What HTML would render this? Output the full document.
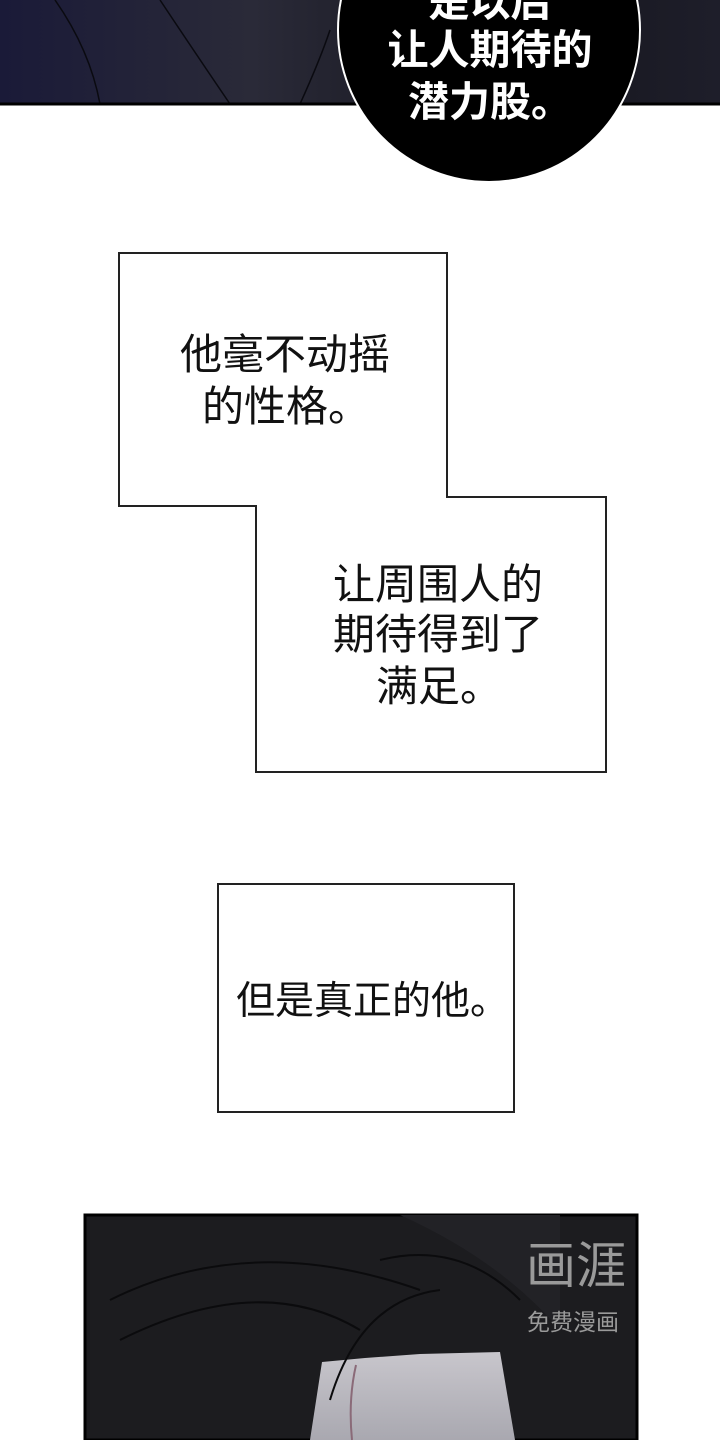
<!DOCTYPE html>
<html><head><meta charset="utf-8"><style>
body{margin:0;width:720px;height:1440px;background:#fff;position:relative;overflow:hidden;font-family:"Liberation Sans","Noto Sans CJK SC",sans-serif}
.t{position:absolute;color:#111;font-size:42px;line-height:52px;white-space:nowrap}
.w{position:absolute;color:#fff;font-size:41px;line-height:52px;white-space:nowrap;width:300px;left:340px;text-align:center;font-weight:bold}
</style></head><body>
<svg width="720" height="1440" style="position:absolute;left:0;top:0">
<defs>
<linearGradient id="g1" x1="0" y1="0" x2="1" y2="0"><stop offset="0" stop-color="#1a1a38"/><stop offset="0.35" stop-color="#2a2a38"/><stop offset="0.7" stop-color="#15151c"/><stop offset="1" stop-color="#1e1e2a"/></linearGradient>
<linearGradient id="g2" x1="0" y1="0" x2="0" y2="1"><stop offset="0" stop-color="#c8c6cc"/><stop offset="1" stop-color="#a9a8b0"/></linearGradient>
</defs>
<rect x="0" y="0" width="720" height="105" fill="url(#g1)"/>
<path d="M55 0 Q90 50 100 104 M160 0 Q200 60 230 104 M330 30 Q320 60 300 104" stroke="#0a0a10" stroke-width="1.5" fill="none"/>
<line x1="0" y1="104" x2="720" y2="104" stroke="#000" stroke-width="3"/>
<ellipse cx="489" cy="30" rx="151" ry="152" fill="#000" stroke="#fff" stroke-width="2"/>
<polygon points="119,253 447,253 447,497 606,497 606,772 256,772 256,506 119,506" fill="#fff" stroke="#222" stroke-width="2"/>
<rect x="218" y="884" width="296" height="228" fill="#fff" stroke="#222" stroke-width="2"/>
<rect x="85" y="1215" width="552" height="225" fill="#1c1c1f" stroke="#000" stroke-width="3"/>
<path d="M85 1215 L400 1215 Q500 1260 560 1330 L560 1215 Z" fill="#222226"/>
<polygon points="322,1362 365,1358 420,1354 500,1352 515,1440 310,1440" fill="url(#g2)"/>
<path d="M110 1300 Q250 1230 420 1290 M120 1340 Q260 1270 360 1330 M330 1400 Q360 1300 440 1290 M380 1260 Q460 1240 520 1300" stroke="#0b0b0d" stroke-width="2" fill="none"/>
<path d="M356 1365 Q348 1400 352 1440" stroke="#8a6a78" stroke-width="2" fill="none"/>
</svg>
<div class="w" style="top:-24px">是以后</div>
<div class="w" style="top:24px">让人期待的</div>
<div class="w" style="top:76px">潜力股。</div>
<div class="t" style="left:180px;top:329px">他毫不动摇</div>
<div class="t" style="left:202px;top:381px">的性格。</div>
<div class="t" style="left:333px;top:559px">让周围人的</div>
<div class="t" style="left:333px;top:609px">期待得到了</div>
<div class="t" style="left:376px;top:661px">满足。</div>
<div class="t" style="left:236px;top:976px;font-size:39px">但是真正的他。</div>
<div class="t" style="left:526px;top:1238px;color:#9a9a9a;font-size:50px;line-height:56px">画涯</div>
<div class="t" style="left:527px;top:1307px;color:#9a9a9a;font-size:23px;line-height:30px">免费漫画</div>
</body></html>
